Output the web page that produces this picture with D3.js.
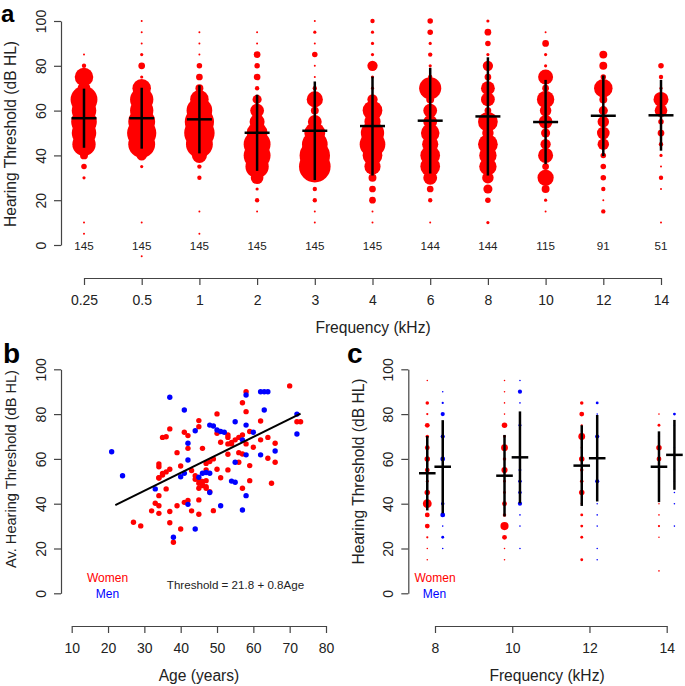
<!DOCTYPE html>
<html>
<head>
<meta charset="utf-8">
<script src="https://cdn.jsdelivr.net/npm/d3@7"></script>
<style>
body { margin: 0; background: #fff; }
text { font-family: "Liberation Sans", Arial, sans-serif; }
</style>
</head>
<body>
<script>
var width = 685, height = 686;
var red = "#ff0000", blue = "#0000ff", axisColor = "#444", textColor = "#222";

// ---- panel a: thresholds per frequency (all subjects) ----
var freqLabels = ["0.25", "0.5", "1", "2", "3", "4", "6", "8", "10", "12", "14"];
var nSubjects = [145, 145, 145, 145, 145, 145, 144, 144, 115, 91, 51];
// threshold levels (dB HL) for the count rows below
var levels = [-5, 0, 5, 10, 15, 20, 25, 30, 35, 40, 45, 50, 55, 60, 65, 70, 75, 80, 85, 90, 95, 100];
// number of subjects at each level, one row per frequency
var counts = [
    [0, 0, 1, 1, 0, 0, 0, 2, 4, 6, 19, 20, 21, 20, 22, 10, 15, 3, 1, 0, 0, 0],   // 0.25
    [1, 0, 0, 1, 0, 0, 0, 0, 2, 8, 22, 24, 22, 19, 19, 15, 2, 5, 2, 1, 1, 1],    // 0.5
    [0, 0, 1, 0, 1, 0, 0, 3, 3, 12, 22, 25, 24, 21, 15, 6, 5, 4, 1, 1, 1, 0],    // 1
    [0, 0, 0, 0, 1, 3, 2, 10, 19, 22, 22, 17, 12, 11, 7, 3, 5, 4, 5, 1, 1, 0],   // 2
    [0, 0, 0, 1, 1, 3, 3, 5, 26, 25, 21, 17, 11, 6, 13, 3, 1, 1, 4, 1, 2, 1],    // 3
    [0, 0, 0, 1, 1, 5, 5, 6, 13, 16, 21, 19, 13, 16, 8, 2, 2, 8, 2, 2, 2, 3],    // 4
    [0, 0, 0, 1, 0, 3, 5, 11, 16, 16, 13, 15, 11, 11, 6, 18, 3, 2, 3, 2, 4, 4],  // 6
    [0, 0, 0, 2, 0, 4, 7, 9, 14, 14, 16, 9, 16, 5, 11, 11, 5, 8, 2, 4, 5, 2],    // 8
    [0, 0, 0, 0, 1, 2, 6, 13, 5, 12, 8, 7, 11, 9, 14, 5, 12, 2, 2, 5, 1, 0],     // 10
    [0, 0, 0, 0, 3, 1, 3, 4, 4, 4, 9, 10, 9, 7, 6, 15, 4, 6, 6, 0, 0, 0],        // 12
    [0, 0, 0, 1, 0, 0, 1, 3, 1, 2, 3, 5, 4, 10, 12, 2, 3, 4, 0, 0, 0, 0]         // 14
];
var meanA = [56.6, 56.6, 56.1, 50.1, 51.0, 53.1, 55.5, 57.4, 54.9, 57.7, 57.9];
var sdA = [13.2, 13.6, 15.2, 17.0, 22.0, 22.1, 23.6, 26.4, 18.8, 18.0, 15.8];

// ---- panel b: average threshold vs age ----
var womenAge = [27, 29, 32, 33, 34, 34, 34, 34, 34, 34, 35, 35, 36, 36, 37, 37, 37, 37, 39, 39,
    40, 40, 38, 41, 41, 42, 42, 42, 43, 43, 44, 44, 45, 45, 45, 45, 45, 46, 46, 47,
    47, 47, 48, 48, 49, 49, 50, 50, 50, 51, 51, 53, 53, 53, 53, 54, 55, 56, 56, 56,
    57, 57, 57, 58, 58, 58, 59, 59, 59, 60, 62, 62, 64, 64, 65, 66, 66, 70, 72, 73,
    45, 46, 46, 47, 45, 47, 57, 34, 35, 36, 53, 54];
var womenThr = [31.7, 30.1, 36.8, 40.2, 39.1, 35.7, 43.6, 51.6, 56.5, 57.7, 52.8, 69.6, 69.9, 46.6, 73.4, 55.4, 36.5, 31.5, 62.8, 39.1,
    56.8, 28.7, 22.8, 71.9, 40.6, 70.4, 64.7, 41.4, 36.8, 54.8, 50.9, 52.5, 77.1, 74.4, 49.1, 41.7, 35.3, 64.7, 48.1, 46.9,
    50.3, 55.1, 45.4, 58.8, 60.0, 36.9, 80.1, 71.4, 55.4, 51.6, 67.4, 69.6, 66.7, 62.1, 55.1, 66.7, 68.5, 69.6, 62.8, 58.5,
    85.1, 46.9, 62.2, 90.0, 81.1, 66.7, 72.2, 57.0, 50.3, 65.2, 76.9, 68.5, 69.6, 60.3, 49.1, 67.0, 58.5, 92.6, 76.6, 76.6,
    50.6, 49.9, 48.4, 47.6, 46.9, 58.0, 70.7, 51.5, 53.5, 54.2, 70.7, 67.3];
var menAge = [21, 24, 33, 37, 38, 40, 41, 41, 42, 42, 42, 44, 44, 45, 46, 47, 48, 48, 48, 49, 50, 51,
    52, 51, 54, 55, 55, 55, 57, 57, 58, 58, 58, 58, 60, 62, 63, 64, 62, 63, 66, 72, 72];
var menThr = [63.2, 52.5, 46.6, 87.5, 25.0, 52.0, 81.8, 53.6, 67.0, 59.5, 39.7, 72.6, 28.7, 51.8, 53.6, 53.9, 53.6, 45.0, 75.1, 74.7, 72.9, 72.2,
    71.9, 39.1, 50.1, 49.6, 58.5, 76.6, 68.5, 37.2, 88.5, 75.1, 61.8, 43.6, 71.9, 90.0, 90.0, 90.0, 61.8, 81.8, 63.5, 80.0, 71.1];
var fitIntercept = 21.8, fitSlope = 0.8, fitAges = [22, 73];

// ---- panel c: high frequencies by sex ----
var freqC = [8, 10, 12, 14];
var womenCounts = [
    [0, 0, 0, 0, 1, 1, 2, 6, 6, 12, 7, 3, 6, 7, 6, 4, 6, 2, 4, 0, 1, 0],
    [0, 0, 0, 0, 1, 1, 6, 11, 4, 6, 3, 3, 8, 4, 9, 3, 7, 1, 1, 1, 1, 0],
    [0, 0, 0, 0, 3, 0, 3, 3, 3, 2, 7, 4, 4, 7, 2, 9, 2, 6, 4, 0, 0, 0],
    [0, 0, 0, 1, 0, 0, 1, 2, 1, 1, 1, 2, 1, 6, 7, 2, 3, 1, 0, 0, 0, 0]
];
var menCounts = [
    [0, 0, 0, 0, 0, 1, 3, 1, 6, 4, 1, 1, 1, 6, 1, 5, 1, 5, 2, 1, 0, 0],
    [0, 0, 0, 0, 0, 1, 0, 1, 1, 5, 4, 4, 3, 2, 0, 1, 3, 1, 1, 5, 1, 0],
    [0, 0, 0, 0, 1, 1, 0, 1, 1, 1, 1, 5, 1, 1, 1, 5, 1, 1, 3, 0, 0, 0],
    [0, 0, 0, 0, 0, 0, 0, 1, 0, 1, 1, 1, 1, 1, 1, 0, 1, 3, 0, 0, 0, 0]
];
var womenMean = [53.6, 52.5, 57.0, 56.5], womenSd = [16.6, 18.2, 18.0, 15.8];
var menMean = [56.5, 60.7, 60.3, 61.8], menSd = [20.8, 20.5, 19.3, 15.6];

var yTicks = [0, 20, 40, 60, 80, 100];

const svg = d3.select("body")
    .append("svg")
    .attr("width", width)
    .attr("height", height);

function styleAxis(g) {
    g.select(".domain").attr("stroke", axisColor).attr("stroke-width", 1.2);
    g.selectAll(".tick line").attr("stroke", axisColor).attr("stroke-width", 1.2);
    g.selectAll(".tick text").attr("fill", textColor).style("font-size", "14px");
}

function leftAxis(y, x0) {
    const g = svg.append("g")
        .attr("transform", `translate(${x0},0)`)
        .call(d3.axisLeft(y).tickValues(yTicks).tickSize(7).tickSizeOuter(0));
    styleAxis(g);
    g.selectAll(".tick text")
        .attr("transform", "rotate(-90)")
        .attr("x", 0).attr("y", -15).attr("dy", null)
        .attr("text-anchor", "middle");
    return g;
}

function bottomAxis(x, y0, ticks) {
    const ax = d3.axisBottom(x).tickSize(7).tickSizeOuter(0).tickPadding(10);
    if (ticks) ax.tickValues(ticks).tickFormat(d3.format("d"));
    const g = svg.append("g")
        .attr("transform", `translate(0,${y0})`)
        .call(ax);
    styleAxis(g);
    return g;
}

function yTitle(label, x, yc, size) {
    svg.append("text")
        .attr("transform", `translate(${x},${yc}) rotate(-90)`)
        .attr("text-anchor", "middle")
        .style("font-size", (size || 15.6) + "px")
        .attr("fill", textColor)
        .text(label);
}

function xTitle(label, xc, y) {
    svg.append("text")
        .attr("x", xc).attr("y", y)
        .attr("text-anchor", "middle")
        .style("font-size", "15.6px")
        .attr("fill", textColor)
        .text(label);
}

function panelLetter(l, x, y, size) {
    svg.append("text")
        .attr("x", x).attr("y", y)
        .style("font-size", (size || 28) + "px").style("font-weight", "bold")
        .text(l);
}

// ================= panel a =================
var xA = d3.scalePoint().domain(freqLabels).range([84, 661]);
var yA = d3.scaleLinear().domain([0, 100]).range([245, 21]);
var rA = d3.scaleLinear().domain([0, 25]).range([0.4, 15.2]);

var dotsA = [];
counts.forEach((row, i) => row.forEach((n, j) => {
    if (n > 0) dotsA.push({ f: freqLabels[i], level: levels[j], n: n });
}));

svg.append("g")
    .selectAll("circle")
    .data(dotsA)
    .join("circle")
    .attr("cx", d => xA(d.f))
    .attr("cy", d => yA(d.level))
    .attr("r", d => rA(d.n))
    .attr("fill", red);

var barsA = svg.append("g").attr("stroke", "#000").attr("stroke-width", 2.5);
freqLabels.forEach((f, i) => {
    barsA.append("line")
        .attr("x1", xA(f)).attr("x2", xA(f))
        .attr("y1", yA(meanA[i] - sdA[i])).attr("y2", yA(meanA[i] + sdA[i]));
    barsA.append("line")
        .attr("x1", xA(f) - 12.5).attr("x2", xA(f) + 12.5)
        .attr("y1", yA(meanA[i])).attr("y2", yA(meanA[i]));
});

svg.append("g")
    .selectAll("text")
    .data(nSubjects)
    .join("text")
    .attr("x", (d, i) => xA(freqLabels[i]))
    .attr("y", 250)
    .attr("text-anchor", "middle")
    .style("font-size", "11.6px")
    .attr("fill", textColor)
    .text(d => d);

leftAxis(yA, 61);
bottomAxis(xA, 278);
yTitle("Hearing Threshold (dB HL)", 16, 134);
xTitle("Frequency (kHz)", 373, 333);
panelLetter("a", 1, 22, 24);

// ================= panel b =================
var xB = d3.scaleLinear().domain([10, 80]).range([71.7, 326]);
var yB = d3.scaleLinear().domain([0, 100]).range([593.3, 369.3]);

svg.append("g")
    .selectAll("circle")
    .data(womenAge)
    .join("circle")
    .attr("cx", d => xB(d))
    .attr("cy", (d, i) => yB(womenThr[i]))
    .attr("r", 2.7)
    .attr("fill", red);

svg.append("g")
    .selectAll("circle")
    .data(menAge)
    .join("circle")
    .attr("cx", d => xB(d))
    .attr("cy", (d, i) => yB(menThr[i]))
    .attr("r", 2.7)
    .attr("fill", blue);

var fitLine = d3.line()
    .x(a => xB(a))
    .y(a => yB(fitIntercept + fitSlope * a));
svg.append("path")
    .attr("d", fitLine(fitAges))
    .attr("fill", "none")
    .attr("stroke", "#000")
    .attr("stroke-width", 2);

svg.append("text").attr("x", 107.5).attr("y", 582).attr("text-anchor", "middle")
    .style("font-size", "12px").attr("fill", red).text("Women");
svg.append("text").attr("x", 107.5).attr("y", 597.5).attr("text-anchor", "middle")
    .style("font-size", "12px").attr("fill", blue).text("Men");
svg.append("text").attr("x", 235.5).attr("y", 589).attr("text-anchor", "middle")
    .style("font-size", "11.6px").attr("fill", textColor)
    .text(`Threshold = ${fitIntercept} + ${fitSlope}Age`);

leftAxis(yB, 61);
bottomAxis(xB, 626, [10, 20, 30, 40, 50, 60, 70, 80]);
yTitle("Av. Hearing Threshold (dB HL)", 16, 469, 14.6);
xTitle("Age (years)", 199, 681);
panelLetter("b", 3, 363);

// ================= panel c =================
var xC = d3.scaleLinear().domain([8, 14]).range([435, 666.7]);
var yC = d3.scaleLinear().domain([0, 100]).range([593.3, 369.3]);
var rC = d3.scaleLinear().domain([0, 12]).range([0.45, 4.4]);
var sexOffset = 0.2;

function dotsFor(rows, shift, color) {
    var dots = [];
    rows.forEach((row, i) => row.forEach((n, j) => {
        if (n > 0) dots.push({ f: freqC[i] + shift, level: levels[j], n: n });
    }));
    svg.append("g")
        .selectAll("circle")
        .data(dots)
        .join("circle")
        .attr("cx", d => xC(d.f))
        .attr("cy", d => yC(d.level))
        .attr("r", d => rC(d.n))
        .attr("fill", color);
}
dotsFor(womenCounts, -sexOffset, red);
dotsFor(menCounts, sexOffset, blue);

function barsFor(means, sds, shift) {
    var g = svg.append("g").attr("stroke", "#000").attr("stroke-width", 2.5);
    freqC.forEach((f, i) => {
        var cx = xC(f + shift);
        g.append("line")
            .attr("x1", cx).attr("x2", cx)
            .attr("y1", yC(means[i] - sds[i])).attr("y2", yC(means[i] + sds[i]));
        g.append("line")
            .attr("x1", cx - 8.3).attr("x2", cx + 8.3)
            .attr("y1", yC(means[i])).attr("y2", yC(means[i]));
    });
}
barsFor(womenMean, womenSd, -sexOffset);
barsFor(menMean, menSd, sexOffset);

svg.append("text").attr("x", 435).attr("y", 582).attr("text-anchor", "middle")
    .style("font-size", "12px").attr("fill", red).text("Women");
svg.append("text").attr("x", 434.5).attr("y", 597.5).attr("text-anchor", "middle")
    .style("font-size", "12px").attr("fill", blue).text("Men");

leftAxis(yC, 408.3);
bottomAxis(xC, 626, freqC);
yTitle("Hearing Threshold (dB HL)", 364, 471.5);
xTitle("Frequency (kHz)", 547, 681);
panelLetter("c", 347, 363);
</script>
</body>
</html>
